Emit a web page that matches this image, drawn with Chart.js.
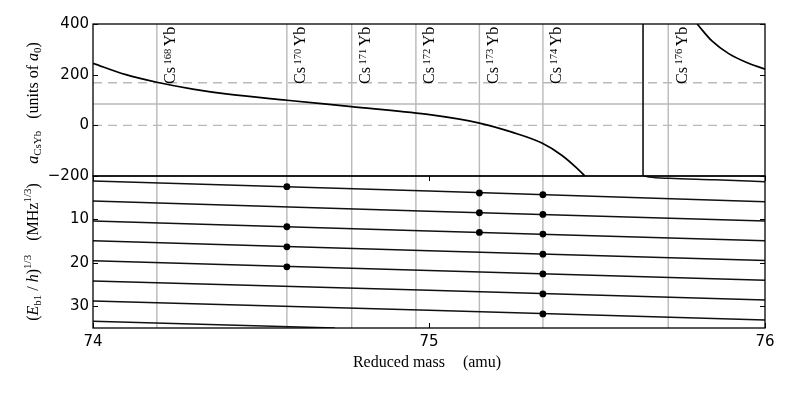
<!DOCTYPE html>
<html><head><meta charset="utf-8">
<script src="https://cdn.jsdelivr.net/npm/chart.js@4.4.0/dist/chart.umd.min.js"></script>
<style>html,body{margin:0;padding:0;background:#fff;}#wrap{width:789px;height:395px;}</style>
</head><body><div id="wrap"><canvas id="c" width="789" height="395"></canvas></div>
<script>
// ---- data ----
const xRange = [74, 76];
const xTicks = [74, 75, 76];
const aRange = [-200, 400];
const aTicks = [-200, 0, 200, 400];
const eRange = [0, 35];
const eTicks = [10, 20, 30];

const isotopes = ['168', '170', '171', '172', '173', '174', '176'];
const isotopeMass = [74.190, 74.577, 74.770, 74.961, 75.150, 75.339, 75.712];

const aBar = 84;              // solid grey reference
const aDashed = [0, 168];     // dashed grey references

const aLeftX = [74.000, 74.098, 74.190, 74.297, 74.396, 74.577, 74.769, 74.991, 75.150, 75.247, 75.336, 75.396, 75.436, 75.464];
const aLeftY = [245, 200, 170, 143, 124, 99, 74, 44, 9, -27, -70, -119, -164, -200];
const poleX = 75.637;
const aRightX = [75.798, 75.842, 75.892, 75.942, 76.000];
const aRightY = [400, 333, 283, 250, 222];

const levelX = [74, 75, 76];
const level1 = [1.15, 3.46, 5.92];
const level2 = [5.77, 8.10, 10.38];
const level3 = [10.38, 12.65, 14.92];
const level4 = [14.92, 17.20, 19.46];
const level5 = [19.54, 21.77, 24.00];
const level6 = [24.15, 26.30, 28.54];
const level7 = [28.77, 30.92, 33.15];
const level8X = [74, 74.72];
const level8 = [33.46, 35.0];
const newLevelX = [75.640, 75.655, 75.715, 75.850, 76.000];
const newLevelY = [0, 0.23, 0.54, 0.85, 1.31];

const dots170 = [2.46, 11.69, 16.31, 20.92];
const dots173 = [3.92, 8.46, 12.99];
const dots174 = [4.31, 8.85, 13.38, 18.00, 22.54, 27.16, 31.77];

// ---- styling ----
const GREY = '#b9b9b9';
const BLACK = '#000000';
const SERIF = '"Liberation Serif", "Times New Roman", serif';

const zip = (xs, ys) => xs.map((x, i) => ({x: x, y: ys[i]}));
function vlines(xs, lo, hi) {
  const out = [];
  xs.forEach(m => { out.push({x: m, y: lo}, {x: m, y: hi}, {x: m, y: null}); });
  return out;
}
function hlines(ys) {
  const out = [];
  ys.forEach(v => { out.push({x: xRange[0], y: v}, {x: xRange[1], y: v}, {x: xRange[1], y: null}); });
  return out;
}
const base = {pointRadius: 0, fill: false, tension: 0, spanGaps: false};
const lvl = (xs, ys) => Object.assign({}, base, {data: zip(xs, ys), yAxisID: 'yBot', borderColor: '#111', borderWidth: 1.5});

const datasets = [
  Object.assign({}, base, {data: [
      ...dots170.map(v => ({x: isotopeMass[1], y: v})),
      ...dots173.map(v => ({x: isotopeMass[4], y: v})),
      ...dots174.map(v => ({x: isotopeMass[5], y: v}))],
    yAxisID: 'yBot', showLine: false, pointRadius: 3.4, pointBackgroundColor: BLACK, pointBorderWidth: 0}),
  Object.assign({}, base, {data: zip(aLeftX, aLeftY), yAxisID: 'yTop', borderColor: BLACK, borderWidth: 1.7, cubicInterpolationMode: 'monotone'}),
  Object.assign({}, base, {data: [{x: poleX, y: aRange[0]}, {x: poleX, y: aRange[1]}], yAxisID: 'yTop', borderColor: BLACK, borderWidth: 1.5}),
  Object.assign({}, base, {data: zip(aRightX, aRightY), yAxisID: 'yTop', borderColor: BLACK, borderWidth: 1.7, cubicInterpolationMode: 'monotone'}),
  lvl(levelX, level1), lvl(levelX, level2), lvl(levelX, level3), lvl(levelX, level4),
  lvl(levelX, level5), lvl(levelX, level6), lvl(levelX, level7), lvl(level8X, level8),
  Object.assign(lvl(newLevelX, newLevelY), {cubicInterpolationMode: 'monotone'}),
  Object.assign({}, base, {data: hlines([aBar]), yAxisID: 'yTop', borderColor: GREY, borderWidth: 1.4}),
  Object.assign({}, base, {data: hlines(aDashed), yAxisID: 'yTop', borderColor: GREY, borderWidth: 1.4, borderDash: [9, 6]}),
  Object.assign({}, base, {data: vlines(isotopeMass, aRange[0], aRange[1]), yAxisID: 'yTop', borderColor: GREY, borderWidth: 1.4}),
  Object.assign({}, base, {data: vlines(isotopeMass, eRange[0], eRange[1]), yAxisID: 'yBot', borderColor: GREY, borderWidth: 1.4})
];

function drawRich(ctx, segs, x, y, rot, align) {
  ctx.save();
  ctx.translate(x, y);
  ctx.rotate(rot);
  let w = 0;
  segs.forEach(s => { ctx.font = s.f; s.w = ctx.measureText(s.t).width + (s.gap || 0); w += s.w; });
  let cx = align === 'center' ? -w / 2 : 0;
  ctx.textAlign = 'left';
  ctx.textBaseline = 'alphabetic';
  ctx.fillStyle = BLACK;
  segs.forEach(s => { ctx.font = s.f; ctx.fillText(s.t, cx, s.dy || 0); cx += s.w; });
  ctx.restore();
}

const R = '16px ' + SERIF, I = 'italic 16px ' + SERIF, S = '11px ' + SERIF, SL = '10.5px ' + SERIF;

const framePlugin = {
  id: 'frame',
  afterDatasetsDraw(chart) {
    const ctx = chart.ctx, ca = chart.chartArea;
    const yt = chart.scales.yTop, yb = chart.scales.yBot, xs = chart.scales.x;
    ctx.save();
    ctx.strokeStyle = BLACK;
    ctx.lineWidth = 1;
    ctx.beginPath();
    [[yt, aTicks], [yb, eTicks]].forEach(([sc, tv]) => {
      tv.forEach(v => {
        const p = Math.round(sc.getPixelForValue(v)) + 0.5;
        ctx.moveTo(ca.left, p); ctx.lineTo(ca.left + 5, p);
        ctx.moveTo(ca.right, p); ctx.lineTo(ca.right - 5, p);
      });
    });
    xTicks.forEach(v => {
      const p = Math.round(xs.getPixelForValue(v)) + 0.5;
      ctx.moveTo(p, yb.bottom); ctx.lineTo(p, yb.bottom - 5);
      ctx.moveTo(p, yb.top); ctx.lineTo(p, yb.top + 5);
    });
    ctx.stroke();
    ctx.lineWidth = 1.3;
    ctx.strokeRect(ca.left, yt.top, ca.right - ca.left, yt.bottom - yt.top);
    ctx.strokeRect(ca.left, yb.top, ca.right - ca.left, yb.bottom - yb.top);
    ctx.restore();
  },
  afterDraw(chart) {
    const ctx = chart.ctx, ca = chart.chartArea;
    const yt = chart.scales.yTop, yb = chart.scales.yBot, xs = chart.scales.x;
    isotopeMass.forEach((m, i) => {
      const px = xs.getPixelForValue(m);
      drawRich(ctx, [
        {t: 'Cs', f: R, gap: 2.5},
        {t: isotopes[i], f: SL, dy: -4.5, gap: 2.5},
        {t: 'Yb', f: R}
      ], px + 18.5, yt.top + 60, -Math.PI / 2, 'left');
    });
    drawRich(ctx, [
      {t: 'a', f: I},
      {t: 'CsYb', f: S, dy: 3.5, gap: 12},
      {t: '(units of ', f: R},
      {t: 'a', f: I},
      {t: '0', f: S, dy: 3.5},
      {t: ')', f: R}
    ], 37.5, (yt.top + yt.bottom) / 2 + 3, -Math.PI / 2, 'center');
    drawRich(ctx, [
      {t: '(', f: R},
      {t: 'E', f: I},
      {t: 'b1', f: S, dy: 3.5},
      {t: ' / ', f: R},
      {t: 'h', f: I},
      {t: ')', f: R},
      {t: '1/3', f: S, dy: -6.5, gap: 14},
      {t: '(MHz', f: R},
      {t: '1/3', f: S, dy: -6.5},
      {t: ')', f: R}
    ], 37.5, (yb.top + yb.bottom) / 2, -Math.PI / 2, 'center');
    drawRich(ctx, [
      {t: 'Reduced mass', f: R, gap: 18},
      {t: '(amu)', f: R}
    ], (ca.left + ca.right) / 2 - 2, 367, 0, 'center');
  }
};

Chart.defaults.font.family = '"DejaVu Sans"';
Chart.defaults.font.size = 15;
Chart.defaults.color = BLACK;

const tickFix = vals => (sc => { sc.ticks = vals.map(v => ({value: v})); });

new Chart(document.getElementById('c'), {
  type: 'line',
  data: {datasets: datasets},
  options: {
    responsive: false,
    animation: false,
    events: [],
    layout: {padding: {top: 24, right: 24, left: 0, bottom: 0}},
    plugins: {legend: {display: false}, tooltip: {enabled: false}},
    scales: {
      x: {
        type: 'linear', position: 'bottom', min: xRange[0], max: xRange[1],
        afterBuildTicks: tickFix(xTicks),
        afterFit: sc => { sc.height = 67; },
        grid: {display: false, drawTicks: false}, border: {display: false},
        ticks: {padding: 5, color: BLACK, font: {size: 15}}
      },
      yTop: {
        type: 'linear', position: 'left', stack: 'panels', stackWeight: 1, weight: 2,
        min: aRange[0], max: aRange[1],
        afterBuildTicks: tickFix(aTicks),
        afterFit: sc => { sc.width = 93; },
        grid: {display: false, drawTicks: false}, border: {display: false},
        ticks: {padding: 4, color: BLACK, font: {size: 15}, callback: v => String(v).replace('-', '\u2212')}
      },
      yBot: {
        type: 'linear', position: 'left', stack: 'panels', stackWeight: 1, weight: 1,
        min: eRange[0], max: eRange[1], reverse: true,
        afterBuildTicks: tickFix(eTicks),
        afterFit: sc => { sc.width = 93; },
        grid: {display: false, drawTicks: false}, border: {display: false},
        ticks: {padding: 4, color: BLACK, font: {size: 15}}
      }
    }
  },
  plugins: [framePlugin]
});
</script>
</body></html>
